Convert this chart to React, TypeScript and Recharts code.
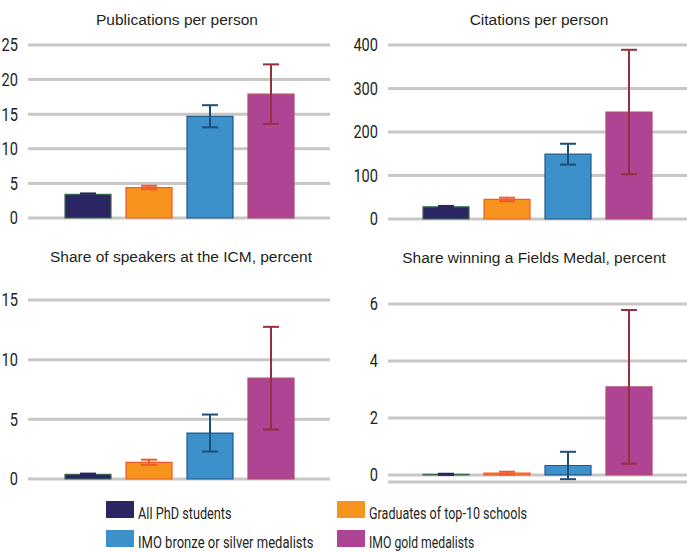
import { Bar, BarChart, CartesianGrid, ErrorBar, XAxis, YAxis } from "recharts"

const groups = ["All PhD students", "Graduates of top-10 schools", "IMO bronze or silver medalists", "IMO gold medalists"]
const keys = ["all", "top10", "bronze", "gold"]
const fills = ["#2b2563", "#f7941e", "#3c91cb", "#ae4493"]
const strokes = ["#3b6b52", "#f15a29", "#1f5a8c", "#b04a6e"]
const errColors = ["#2b2563", "#f15a29", "#1d4e79", "#96303f"]

const titles = [
  "Publications per person",
  "Citations per person",
  "Share of speakers at the ICM, percent",
  "Share winning a Fields Medal, percent",
]

// values per panel, one per group
const pubValues = [3.4, 4.4, 14.7, 17.9]
const pubErrors = [0.15, 0.25, 1.6, 4.3]
const citValues = [28, 45, 149, 246]
const citErrors = [2, 4, 24, 143]
const icmValues = [0.4, 1.4, 3.85, 8.45]
const icmErrors = [0.05, 0.22, 1.55, 4.3]
const fieldsValues = [0.02, 0.06, 0.33, 3.09]
const fieldsErrors = [0.02, 0.05, 0.48, 2.7]

const pubTicks = [0, 5, 10, 15, 20, 25]
const citTicks = [0, 100, 200, 300, 400]
const icmTicks = [0, 5, 10, 15]
const fieldsTicks = [0, 2, 4, 6]

const condFont = "Roboto, 'Liberation Sans', sans-serif"

function makeRow(values: number[], errors: number[]) {
  const row: Record<string, any> = { name: "x" }
  keys.forEach((k, i) => {
    row[k] = values[i]
    row[k + "Err"] = errors[i]
  })
  return [row]
}

// condensed look: squeeze the glyphs since no narrow font is installed
function NarrowTick(props: any) {
  const { x, y, payload } = props
  const label = String(payload.value)
  return (
    <text
      x={x}
      y={y}
      dy="0.355em"
      textAnchor="end"
      fontSize={18}
      fontFamily={condFont}
      fill="#231f20"
      textLength={label.length * 8.2}
      lengthAdjust="spacingAndGlyphs"
    >
      {label}
    </text>
  )
}

type PanelProps = {
  title: string
  values: number[]
  errors: number[]
  ticks: number[]
  domain: [number, number]
  left: number
  top: number
  width: number
  height: number
  yWidth: number
  margin: { top: number; right: number; bottom: number; left: number }
  titleX: number
  titleY: number
}

function Panel(p: PanelProps) {
  const data = makeRow(p.values, p.errors)
  return (
    <div style={{ position: "absolute", left: p.left, top: p.top, width: p.width, height: p.height }}>
      <div
        style={{
          position: "absolute",
          left: p.titleX - 200,
          width: 400,
          top: p.titleY - 9,
          lineHeight: "18px",
          textAlign: "center",
          fontFamily: "'Liberation Sans', Arial, sans-serif",
          fontSize: 15.5,
          color: "#231f20",
        }}
      >
        {p.title}
      </div>
      <BarChart width={p.width} height={p.height} data={data} margin={p.margin} barSize={46} barGap={15}>
        <CartesianGrid vertical={false} stroke="#cac6c6" strokeWidth={3} />
        <XAxis dataKey="name" hide />
        <YAxis
          width={p.yWidth}
          domain={p.domain}
          ticks={p.ticks}
          axisLine={false}
          tickLine={false}
          tickMargin={4}
          tick={<NarrowTick />}
        />
        {keys.map((k, i) => (
          <Bar
            key={k}
            dataKey={k}
            name={groups[i]}
            fill={fills[i]}
            stroke={strokes[i]}
            strokeWidth={1.2}
            isAnimationActive={false}
          >
            <ErrorBar dataKey={k + "Err"} width={8} strokeWidth={2} stroke={errColors[i]} />
          </Bar>
        ))}
      </BarChart>
    </div>
  )
}

function Legend() {
  const spots = [
    [106, 501],
    [337, 501],
    [106, 530],
    [337, 530],
  ]
  return (
    <svg style={{ position: "absolute", left: 0, top: 0 }} width={687} height={552}>
      {groups.map((g, i) => {
        const [x, y] = spots[i]
        return (
          <g key={g}>
            <rect x={x} y={y} width={28} height={17} fill={fills[i]} />
            <text
              x={x + 32}
              y={y + 17.5}
              fontSize={17}
              fontFamily={condFont}
              fill="#231f20"
              textLength={g.length * 5.85}
              lengthAdjust="spacingAndGlyphs"
            >
              {g}
            </text>
          </g>
        )
      })}
    </svg>
  )
}

export default function App() {
  return (
    <div style={{ position: "absolute", left: 0, top: 0, width: 687, height: 552, background: "#fff", overflow: "hidden" }}>
      <Panel
        title={titles[0]}
        values={pubValues}
        errors={pubErrors}
        ticks={pubTicks}
        domain={[0, 25]}
        left={0}
        top={0}
        width={345}
        height={230}
        yWidth={28}
        margin={{ top: 45, right: 15, bottom: 12, left: 0 }}
        titleX={177}
        titleY={20}
      />
      <Panel
        title={titles[1]}
        values={citValues}
        errors={citErrors}
        ticks={citTicks}
        domain={[0, 400]}
        left={345}
        top={0}
        width={342}
        height={230}
        yWidth={43}
        margin={{ top: 45, right: 0, bottom: 11, left: 0 }}
        titleX={194}
        titleY={20}
      />
      <Panel
        title={titles[2]}
        values={icmValues}
        errors={icmErrors}
        ticks={icmTicks}
        domain={[0, 15]}
        left={0}
        top={235}
        width={345}
        height={255}
        yWidth={28}
        margin={{ top: 65, right: 15, bottom: 11, left: 0 }}
        titleX={181}
        titleY={22}
      />
      <Panel
        title={titles[3]}
        values={fieldsValues}
        errors={fieldsErrors}
        ticks={fieldsTicks}
        domain={[-0.25, 6]}
        left={345}
        top={235}
        width={342}
        height={255}
        yWidth={43}
        margin={{ top: 69, right: 0, bottom: 8, left: 0 }}
        titleX={189}
        titleY={23}
      />
      <Legend />
    </div>
  )
}
